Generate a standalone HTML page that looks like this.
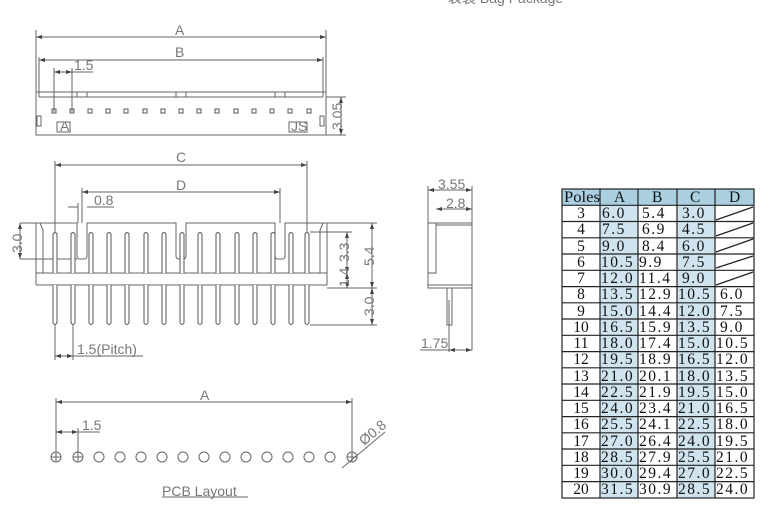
<!DOCTYPE html>
<html><head><meta charset="utf-8"><style>
html,body{margin:0;padding:0;background:#fff;}
svg{display:block;font-family:"Liberation Sans","Noto Sans CJK SC",sans-serif;}
.l{stroke:#666;stroke-width:1;fill:none}
.t{fill:#777;font-size:14px}
.tb{font-family:"Liberation Serif","Noto Serif CJK SC",serif;font-size:15.5px;fill:#111}
</style></head><body>
<svg width="780" height="508" viewBox="0 0 780 508" xmlns="http://www.w3.org/2000/svg">
<defs>
<marker id="ar" markerWidth="6" markerHeight="4" refX="6" refY="2" orient="auto-start-reverse"><path d="M0,0L6,2L0,4z" fill="#444"/></marker>
</defs>
<text x="448" y="3" class="t" font-size="12">袋装 Bag Package</text>

<!-- TOP VIEW -->
<g class="l">
<line x1="36" y1="30" x2="36" y2="92"/><line x1="326" y1="30" x2="326" y2="92"/>
<line x1="36" y1="37" x2="326" y2="37" marker-start="url(#ar)" marker-end="url(#ar)"/>
<line x1="39" y1="57" x2="39" y2="97"/><line x1="323" y1="57" x2="323" y2="97"/>
<line x1="39" y1="60" x2="323" y2="60" marker-start="url(#ar)" marker-end="url(#ar)"/>
<line x1="54" y1="68" x2="54" y2="112"/><line x1="72" y1="68" x2="72" y2="112"/>
<line x1="54" y1="72" x2="72" y2="72" marker-start="url(#ar)" marker-end="url(#ar)"/>
<line x1="72" y1="72" x2="93" y2="72"/>
<rect x="36" y="92" width="290" height="43"/>
<line x1="39" y1="97" x2="323" y2="97"/>
<rect x="77" y="92" width="10" height="5"/><rect x="176" y="92" width="10" height="5"/><rect x="275" y="92" width="10" height="5"/>
<line x1="326" y1="97" x2="346" y2="97"/><line x1="326" y1="135" x2="346" y2="135"/>
<line x1="341" y1="97" x2="341" y2="135" marker-start="url(#ar)" marker-end="url(#ar)"/>
<rect x="37" y="116" width="4" height="10"/><rect x="320" y="116" width="4" height="10"/>
<rect x="57" y="122" width="13" height="10"/><rect x="289" y="122" width="18" height="10"/>
</g>
<g fill="none" stroke="#555">
<rect x="52" y="109" width="4" height="4"/><rect x="70" y="109" width="4" height="4"/><rect x="88" y="109" width="4" height="4"/><rect x="106" y="109" width="4" height="4"/><rect x="124" y="109" width="4" height="4"/><rect x="143" y="109" width="4" height="4"/><rect x="161" y="109" width="4" height="4"/><rect x="179" y="109" width="4" height="4"/><rect x="197" y="109" width="4" height="4"/><rect x="215" y="109" width="4" height="4"/><rect x="234" y="109" width="4" height="4"/><rect x="252" y="109" width="4" height="4"/><rect x="270" y="109" width="4" height="4"/><rect x="288" y="109" width="4" height="4"/><rect x="307" y="109" width="4" height="4"/>
</g>
<text x="175" y="35" class="t" font-size="15">A</text>
<text x="175" y="57" class="t" font-size="15">B</text>
<text x="74" y="70" class="t" font-size="12">1.5</text>
<text x="60" y="131" class="t" font-size="9">A</text>
<text x="291" y="131" class="t" font-size="9">JS</text>
<text x="0" y="0" class="t" font-size="11" transform="translate(342,130) rotate(-90)">3.05</text>

<!-- FRONT VIEW -->
<g class="l">
<line x1="55" y1="161" x2="55" y2="232"/><line x1="307" y1="161" x2="307" y2="232"/>
<line x1="55" y1="165" x2="307" y2="165" marker-start="url(#ar)" marker-end="url(#ar)"/>
<line x1="82" y1="188" x2="82" y2="223"/><line x1="280" y1="188" x2="280" y2="223"/>
<line x1="82" y1="192" x2="280" y2="192" marker-start="url(#ar)" marker-end="url(#ar)"/>
<line x1="68" y1="207" x2="78" y2="207"/><line x1="87" y1="207" x2="114" y2="207"/>
<line x1="78" y1="203" x2="78" y2="223"/>
<path d="M36,223 H77 V256 Q77,259 80,259 H84 Q87,259 87,256 V223 H176 V256 Q176,259 179,259 H183 Q186,259 186,256 V223 H275 V256 Q275,259 278,259 H282 Q285,259 285,256 V223 H327 V285"/>
<line x1="36" y1="223" x2="36" y2="285"/>
<path d="M40,223 L43,230 V273"/><path d="M323,223 L320,230 V273"/>
<line x1="36" y1="273" x2="327" y2="273"/>
<line x1="36" y1="285" x2="327" y2="285"/>
<line x1="20" y1="223" x2="36" y2="223"/><line x1="20" y1="259" x2="77" y2="259"/>
<line x1="20" y1="223" x2="20" y2="259" marker-start="url(#ar)" marker-end="url(#ar)"/>
<line x1="327" y1="223" x2="377" y2="223"/><line x1="310" y1="232" x2="352" y2="232"/>
<line x1="327" y1="288" x2="377" y2="288"/><line x1="310" y1="325" x2="377" y2="325"/>
<line x1="347" y1="232" x2="347" y2="273" marker-start="url(#ar)" marker-end="url(#ar)"/>
<line x1="347" y1="273" x2="347" y2="288" marker-start="url(#ar)" marker-end="url(#ar)"/>
<line x1="372" y1="223" x2="372" y2="288" marker-start="url(#ar)" marker-end="url(#ar)"/>
<line x1="372" y1="288" x2="372" y2="325" marker-start="url(#ar)" marker-end="url(#ar)"/>
<line x1="55" y1="325" x2="55" y2="360"/><line x1="73" y1="325" x2="73" y2="360"/>
<line x1="55" y1="356" x2="73" y2="356" marker-start="url(#ar)" marker-end="url(#ar)"/>
<line x1="73" y1="356" x2="143" y2="356"/>
</g>
<g fill="#fff" stroke="#555">
<path d="M53,273V234q2,-3 4,0V273"/><path d="M71,273V234q2,-3 4,0V273"/><path d="M89,273V234q2,-3 4,0V273"/><path d="M107,273V234q2,-3 4,0V273"/><path d="M125,273V234q2,-3 4,0V273"/><path d="M144,273V234q2,-3 4,0V273"/><path d="M162,273V234q2,-3 4,0V273"/><path d="M180,273V234q2,-3 4,0V273"/><path d="M198,273V234q2,-3 4,0V273"/><path d="M216,273V234q2,-3 4,0V273"/><path d="M235,273V234q2,-3 4,0V273"/><path d="M253,273V234q2,-3 4,0V273"/><path d="M271,273V234q2,-3 4,0V273"/><path d="M289,273V234q2,-3 4,0V273"/><path d="M305,273V234q2,-3 4,0V273"/>
<path d="M53,285V323q2,3 4,0V285"/><path d="M71,285V323q2,3 4,0V285"/><path d="M89,285V323q2,3 4,0V285"/><path d="M107,285V323q2,3 4,0V285"/><path d="M125,285V323q2,3 4,0V285"/><path d="M144,285V323q2,3 4,0V285"/><path d="M162,285V323q2,3 4,0V285"/><path d="M180,285V323q2,3 4,0V285"/><path d="M198,285V323q2,3 4,0V285"/><path d="M216,285V323q2,3 4,0V285"/><path d="M235,285V323q2,3 4,0V285"/><path d="M253,285V323q2,3 4,0V285"/><path d="M271,285V323q2,3 4,0V285"/><path d="M289,285V323q2,3 4,0V285"/><path d="M305,285V323q2,3 4,0V285"/>
</g>
<text x="176" y="162" class="t" font-size="15">C</text>
<text x="176" y="190" class="t" font-size="15">D</text>
<text x="94" y="205" class="t" font-size="12">0.8</text>
<text x="77" y="354" class="t" font-size="13">1.5(Pitch)</text>
<text x="0" y="0" class="t" font-size="12" transform="translate(22,253) rotate(-90)">3.0</text>
<text x="0" y="0" class="t" font-size="11" transform="translate(349,262) rotate(-90)">3.3</text>
<text x="0" y="0" class="t" font-size="10" transform="translate(349,287) rotate(-90)">1.4</text>
<text x="0" y="0" class="t" font-size="12" transform="translate(374,266) rotate(-90)">5.4</text>
<text x="0" y="0" class="t" font-size="12" transform="translate(374,316) rotate(-90)">3.0</text>

<!-- SIDE VIEW -->
<g class="l">
<line x1="428" y1="186" x2="428" y2="223"/><line x1="472" y1="186" x2="472" y2="350"/>
<line x1="428" y1="190" x2="472" y2="190" marker-start="url(#ar)" marker-end="url(#ar)"/>
<line x1="436" y1="209" x2="472" y2="209" marker-start="url(#ar)" marker-end="url(#ar)"/>
<rect x="428" y="223" width="44" height="65"/>
<path d="M428,273H436V223"/><line x1="436" y1="225" x2="472" y2="225"/>
<line x1="428" y1="285" x2="472" y2="285"/>
<rect x="447" y="288" width="5" height="37"/>
<line x1="449" y1="300" x2="449" y2="352"/>
<line x1="420" y1="350" x2="449" y2="350"/>
<line x1="449" y1="350" x2="472" y2="350" marker-start="url(#ar)" marker-end="url(#ar)"/>
</g>
<text x="438" y="189" class="t" font-size="11">3.55</text>
<text x="446" y="208" class="t" font-size="11">2.8</text>
<text x="421" y="348" class="t" font-size="11">1.75</text>

<!-- PCB LAYOUT -->
<g class="l">
<line x1="56" y1="398" x2="56" y2="457"/><line x1="352" y1="398" x2="352" y2="457"/>
<line x1="56" y1="402" x2="352" y2="402" marker-start="url(#ar)" marker-end="url(#ar)"/>
<line x1="78" y1="428" x2="78" y2="457"/>
<line x1="56" y1="432" x2="78" y2="432" marker-start="url(#ar)" marker-end="url(#ar)"/>
<line x1="78" y1="432" x2="100" y2="432"/>
<circle cx="56" cy="457" r="5"/><circle cx="78" cy="457" r="5"/><circle cx="99" cy="457" r="5"/><circle cx="120" cy="457" r="5"/><circle cx="141" cy="457" r="5"/><circle cx="162" cy="457" r="5"/><circle cx="183" cy="457" r="5"/><circle cx="204" cy="457" r="5"/><circle cx="225" cy="457" r="5"/><circle cx="246" cy="457" r="5"/><circle cx="267" cy="457" r="5"/><circle cx="288" cy="457" r="5"/><circle cx="309" cy="457" r="5"/><circle cx="330" cy="457" r="5"/><circle cx="352" cy="457" r="5"/>
<path d="M51,457h10M56,452v10M73,457h10M78,452v10M347,457h10M352,452v10"/>
<line x1="342" y1="468" x2="385" y2="432"/>
<line x1="162" y1="497" x2="248" y2="497"/>
</g>
<text x="0" y="0" class="t" font-size="12" transform="translate(364,446) rotate(-40)">Ø0.8</text>
<text x="200" y="400" class="t" font-size="15">A</text>
<text x="82" y="430" class="t" font-size="12">1.5</text>
<text x="162" y="496" class="t" font-size="13" fill="#999">PCB  Layout</text>

<!-- TABLE -->
<g>
<rect x="562" y="189" width="192" height="16" fill="#a9cfe0"/>
<rect x="600" y="205" width="38" height="293" fill="#cfe4ee"/>
<rect x="677" y="205" width="38" height="293" fill="#cfe4ee"/>
<g stroke="#222" stroke-width="1.2" fill="none">
<rect x="562" y="189" width="192" height="309"/>
<line x1="600" y1="189" x2="600" y2="498"/><line x1="638" y1="189" x2="638" y2="498"/><line x1="677" y1="189" x2="677" y2="498"/><line x1="715" y1="189" x2="715" y2="498"/>
<path d="M562,205.3H754M562,221.5H754M562,237.8H754M562,254H754M562,270.3H754M562,286.6H754M562,302.8H754M562,319H754M562,335.3H754M562,351.6H754M562,367.8H754M562,384H754M562,400.3H754M562,416.6H754M562,432.8H754M562,449H754M562,465.3H754M562,481.6H754"/>
<path d="M716,220L753,207M716,236L753,223M716,252L753,239M716,268L753,256M716,285L753,272"/>
</g>
<g class="tb">
<text x="564" y="202" textLength="36" lengthAdjust="spacingAndGlyphs">Poles</text><text x="614" y="202">A</text><text x="652" y="202">B</text><text x="690" y="202">C</text><text x="729" y="202">D</text>
</g>
<g class="tb" text-anchor="middle">
<text x="581" y="218">3</text><text x="581" y="234">4</text><text x="581" y="251">5</text><text x="581" y="267">6</text><text x="581" y="283">7</text><text x="581" y="299">8</text><text x="581" y="316">9</text><text x="581" y="332">10</text><text x="581" y="348">11</text><text x="581" y="364">12</text><text x="581" y="381">13</text><text x="581" y="397">14</text><text x="581" y="413">15</text><text x="581" y="429">16</text><text x="581" y="446">17</text><text x="581" y="462">18</text><text x="581" y="478">19</text><text x="581" y="494">20</text>
</g>
<g class="tb" letter-spacing="1.5">
<text x="602" y="218">6.0</text><text x="602" y="234">7.5</text><text x="602" y="251">9.0</text><text x="601" y="267">10.5</text><text x="601" y="283">12.0</text><text x="601" y="299">13.5</text><text x="601" y="316">15.0</text><text x="601" y="332">16.5</text><text x="601" y="348">18.0</text><text x="601" y="364">19.5</text><text x="601" y="381">21.0</text><text x="601" y="397">22.5</text><text x="601" y="413">24.0</text><text x="601" y="429">25.5</text><text x="601" y="446">27.0</text><text x="601" y="462">28.5</text><text x="601" y="478">30.0</text><text x="601" y="494">31.5</text>
<text x="642" y="218">5.4</text><text x="642" y="234">6.9</text><text x="642" y="251">8.4</text><text x="639" y="267">9.9</text><text x="639" y="283">11.4</text><text x="639" y="299">12.9</text><text x="639" y="316">14.4</text><text x="639" y="332">15.9</text><text x="639" y="348">17.4</text><text x="639" y="364">18.9</text><text x="639" y="381">20.1</text><text x="639" y="397">21.9</text><text x="639" y="413">23.4</text><text x="639" y="429">24.1</text><text x="639" y="446">26.4</text><text x="639" y="462">27.9</text><text x="639" y="478">29.4</text><text x="639" y="494">30.9</text>
<text x="682" y="218">3.0</text><text x="682" y="234">4.5</text><text x="682" y="251">6.0</text><text x="682" y="267">7.5</text><text x="682" y="283">9.0</text><text x="678" y="299">10.5</text><text x="678" y="316">12.0</text><text x="678" y="332">13.5</text><text x="678" y="348">15.0</text><text x="678" y="364">16.5</text><text x="678" y="381">18.0</text><text x="678" y="397">19.5</text><text x="678" y="413">21.0</text><text x="678" y="429">22.5</text><text x="678" y="446">24.0</text><text x="678" y="462">25.5</text><text x="678" y="478">27.0</text><text x="678" y="494">28.5</text>
<text x="720" y="299">6.0</text><text x="720" y="316">7.5</text><text x="720" y="332">9.0</text><text x="716" y="348">10.5</text><text x="716" y="364">12.0</text><text x="716" y="381">13.5</text><text x="716" y="397">15.0</text><text x="716" y="413">16.5</text><text x="716" y="429">18.0</text><text x="716" y="446">19.5</text><text x="716" y="462">21.0</text><text x="716" y="478">22.5</text><text x="716" y="494">24.0</text>
</g>
</g>
</svg>
</body></html>
